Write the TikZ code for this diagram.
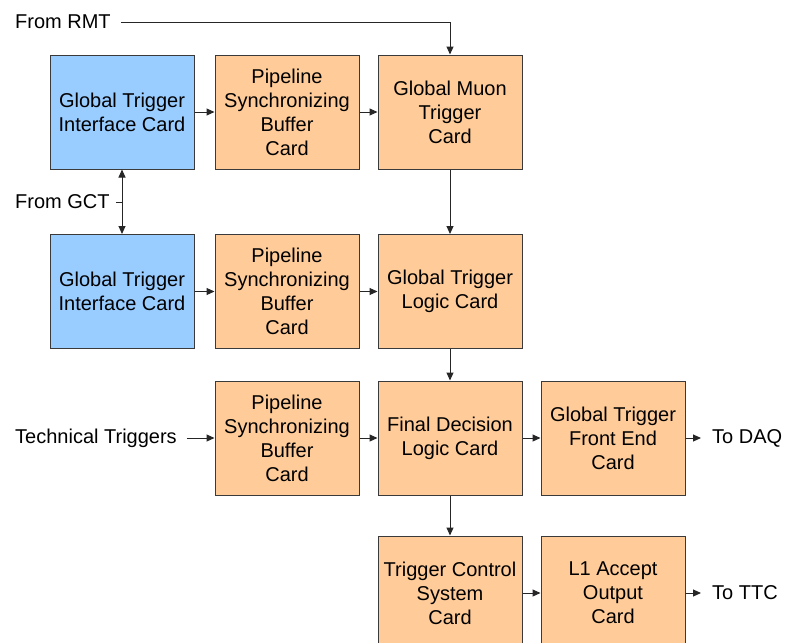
\documentclass[tikz,border=0pt]{standalone}
\usepackage{fontspec}
\setmainfont{Liberation Sans}
\usepackage{xcolor}
\usetikzlibrary{arrows.meta}
\definecolor{gtblue}{HTML}{99CCFF}
\definecolor{gtorange}{HTML}{FFCC99}
\definecolor{gtedge}{HTML}{3A3A3A}

\begin{document}
\begin{tikzpicture}[x=1pt,y=-1pt,
  >={Triangle[length=8pt,width=7pt]},
  card/.style={draw=gtedge,line width=1pt,minimum width=144pt,minimum height=114pt,
    inner sep=0pt,align=center,font=\fontsize{20}{24}\selectfont},
  bluecard/.style={card,fill=gtblue},
  orangecard/.style={card,fill=gtorange},
  lbl/.style={inner sep=0pt,anchor=west,font=\fontsize{20}{24}\selectfont},
  link/.style={line width=1pt,draw=black!85}]
  \useasboundingbox (0,0) rectangle (785,643);
  % row 1
  \node[bluecard] (gtia) at (122,112) {Global Trigger\\Interface Card};
  \node[orangecard] (psba) at (287,112) {Pipeline\\Synchronizing\\Buffer\\Card};
  \node[orangecard] (gmt) at (450,112) {Global Muon\\Trigger\\Card};
  % row 2
  \node[bluecard] (gtib) at (122,291.5) {Global Trigger\\Interface Card};
  \node[orangecard] (psbb) at (287,291.5) {Pipeline\\Synchronizing\\Buffer\\Card};
  \node[orangecard] (gtl) at (450,291.5) {Global Trigger\\Logic Card};
  % row 3
  \node[orangecard] (psbc) at (287,438) {Pipeline\\Synchronizing\\Buffer\\Card};
  \node[orangecard] (fdl) at (450,438) {Final Decision\\Logic Card};
  \node[orangecard] (gtfe) at (613,438) {Global Trigger\\Front End\\Card};
  % row 4
  \node[orangecard] (tcs) at (450,593) {Trigger Control\\System\\Card};
  \node[orangecard] (lacc) at (613,593) {L1 Accept\\Output\\Card};
  % outside labels
  \node[lbl] (rmt) at (15,22) {From RMT};
  \node[lbl] (gct) at (15,202) {From GCT};
  \node[lbl] (ttrig) at (15,438) {Technical Triggers};
  \node[lbl] (daq) at (712,438) {To DAQ};
  \node[lbl] (ttc) at (712,593) {To TTC};
  \coordinate (rmtbend) at (450,22);
  % connectors
  \draw[link,->,shorten <=10pt] (rmt.east) -- (rmtbend) -- (gmt.north);
  \draw[link,shorten <=6pt] (gct.east) -- (gct.east -| gtia.south);
  \draw[link,<->] (gtia.south) -- (gtib.north);
  \draw[link,->] (gtia) -- (psba);
  \draw[link,->] (psba) -- (gmt);
  \draw[link,->] (gmt) -- (gtl);
  \draw[link,->] (gtib) -- (psbb);
  \draw[link,->] (psbb) -- (gtl);
  \draw[link,->] (gtl) -- (fdl);
  \draw[link,->,shorten <=10pt] (ttrig.east) -- (psbc.west);
  \draw[link,->] (psbc) -- (fdl);
  \draw[link,->] (fdl) -- (gtfe);
  \draw[link,->,shorten >=11pt] (gtfe.east) -- (daq.west);
  \draw[link,->] (fdl) -- (tcs);
  \draw[link,->] (tcs) -- (lacc);
  \draw[link,->,shorten >=11pt] (lacc.east) -- (ttc.west);
\end{tikzpicture}
\end{document}
